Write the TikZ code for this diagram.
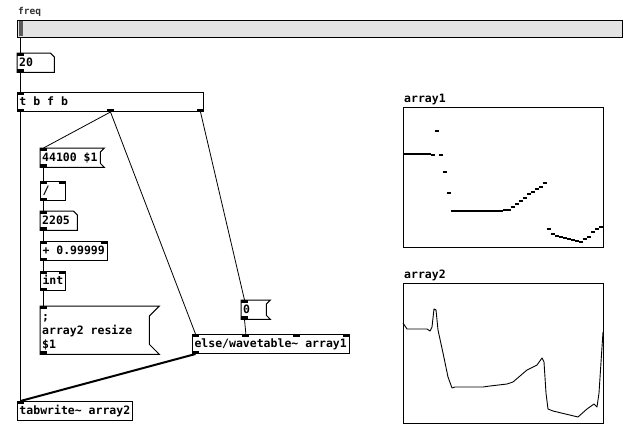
\documentclass[tikz,border=0pt]{standalone}
\usepackage{fontspec}
\newfontfamily\pdmono{DejaVu Sans Mono}
\newcommand\pdtext{\pdmono\bfseries\fontsize{11.5}{14}\selectfont}
\newcommand\pdsmall{\pdmono\bfseries\fontsize{9.5}{11}\selectfont}
\newcommand\pdsp{\hspace*{0.602em}}
\usetikzlibrary{calc}
\definecolor{sliderbg}{HTML}{E3E3E3}
\definecolor{thumb}{HTML}{5A5A5A}
\begin{document}
\begin{tikzpicture}[x=1pt,y=-1pt,
  pd/.style={font=\pdtext, anchor=north west, inner xsep=2pt, inner ysep=0pt,
    text height=13pt, text depth=6pt, align=left},
  obj/.style={pd, draw, line width=1pt},
  outline/.style={draw, line width=1pt},
  conn/.style={line width=0.8pt},
  sig/.style={line width=2pt},
  io/.style={fill=black},
  graphbox/.style={draw, line width=1pt, anchor=north west, inner sep=0pt},
  apt/.style={line width=2pt},
  lbl/.style={font=\pdtext, anchor=base west, inner sep=0pt}
]
\useasboundingbox[fill=white] (0,0) rectangle (643,447);

% slider
\node[lbl, font=\pdsmall, text=black!80] (freqlbl) at (18,15) {freq};
\node[draw, line width=1pt, fill=sliderbg, anchor=north west, inner sep=0pt,
  minimum width=605pt, minimum height=17pt] (sl) at (17,20) {};
\fill[thumb] (19,21) rectangle (22.5,36);

% number box 20
\node[pd, text width=33pt] (n20) at (17,53) {20};
\draw[outline] (n20.north west) -- ([xshift=-4pt]n20.north east) -- ([yshift=-4pt]n20.north east) -- (n20.south east) -- (n20.south west) -- cycle;

% t b f b
\node[obj, text width=182pt] (tb) at (17,92) {t\pdsp b\pdsp f\pdsp b};

% 44100 $1
\node[pd, text width=56pt] (m44) at (40,148) {44100\pdsp\$1};
\draw[outline] (m44.north west) -- ([xshift=4pt]m44.north east) -- ([yshift=-4pt]m44.north east) -- ([yshift=4pt]m44.south east) -- ([xshift=4pt]m44.south east) -- (m44.south west) -- cycle;

% /
\node[obj, text width=21pt] (dv) at (40,181) {/};

% 2205
\node[pd, text width=33pt] (n22) at (40,211) {2205};
\draw[outline] (n22.north west) -- ([xshift=-4pt]n22.north east) -- ([yshift=-4pt]n22.north east) -- (n22.south east) -- (n22.south west) -- cycle;

% + 0.99999
\node[obj, text width=63pt] (pl) at (40,241) {+\pdsp 0.99999};

% int
\node[obj, text width=21pt] (in) at (40,271) {int};

% resize message
\node[pd, text width=105pt, text height=14pt, text depth=34pt] (mr) at (40,306) {;\\array2\pdsp resize\\\$1};
\draw[outline] (mr.north west) -- ([xshift=10pt]mr.north east) -- ([yshift=-10pt]mr.north east) -- ([yshift=10pt]mr.south east) -- ([xshift=10pt]mr.south east) -- (mr.south west) -- cycle;

% 0 message
\node[pd, text width=21pt] (m0) at (241,300) {0};
\draw[outline] (m0.north west) -- ([xshift=4pt]m0.north east) -- ([yshift=-4pt]m0.north east) -- ([yshift=4pt]m0.south east) -- ([xshift=4pt]m0.south east) -- (m0.south west) -- cycle;

% wavetable
\node[obj, text width=153pt] (wt) at (192,334) {else/wavetable\string~\pdsp array1};

% tabwrite
\node[obj, text width=111pt] (tw) at (17,401) {tabwrite\string~\pdsp array2};

% iolets
\fill[io] (n20.north west) rectangle ++(7,3);
\fill[io] (n20.south west) rectangle ++(7,-3);
\fill[io] (tb.north west) rectangle ++(7,3);
\fill[io] (tb.south west) rectangle ++(7,-3);
\fill[io] ([xshift=-3.5pt]tb.south) rectangle ++(7,-3);
\fill[io] (tb.south east) rectangle ++(-7,-3);
\fill[io] (m44.north west) rectangle ++(7,3);
\fill[io] (m44.south west) rectangle ++(7,-3);
\fill[io] (dv.north west) rectangle ++(7,3);
\fill[io] (dv.north east) rectangle ++(-7,3);
\fill[io] (dv.south west) rectangle ++(7,-3);
\fill[io] (n22.north west) rectangle ++(7,3);
\fill[io] (n22.south west) rectangle ++(7,-3);
\fill[io] (pl.north west) rectangle ++(7,3);
\fill[io] (pl.north east) rectangle ++(-7,3);
\fill[io] (pl.south west) rectangle ++(7,-3);
\fill[io] (in.north west) rectangle ++(7,3);
\fill[io] (in.north east) rectangle ++(-7,3);
\fill[io] (in.south west) rectangle ++(7,-3);
\fill[io] (mr.north west) rectangle ++(7,3);
\fill[io] (mr.south west) rectangle ++(7,-3);
\fill[io] (m0.north west) rectangle ++(7,3);
\fill[io] (m0.south west) rectangle ++(7,-3);
\fill[io] (wt.north west) rectangle ++(7,3);
\fill[io] ($(wt.north west)!0.3333!(wt.north east)+(-2.3,0)$) rectangle ++(7,3);
\fill[io] ($(wt.north west)!0.6667!(wt.north east)+(-4.7,0)$) rectangle ++(7,3);
\fill[io] (wt.north east) rectangle ++(-7,3);
\fill[io] (wt.south west) rectangle ++(7,-3);
\fill[io] (tw.north west) rectangle ++(7,3);

% connections
\draw[conn] ([xshift=3.5pt]sl.south west) -- ([xshift=3.5pt]n20.north west);
\draw[conn] ([xshift=3.5pt]n20.south west) -- ([xshift=3.5pt]tb.north west);
\draw[conn] ([xshift=3.5pt]tb.south west) -- ([xshift=3.5pt]tw.north west);
\draw[conn] (tb.south) -- ([xshift=3.5pt]m44.north west);
\draw[conn] (tb.south) -- ([xshift=3.5pt]wt.north west);
\draw[conn] ([xshift=-3.5pt]tb.south east) -- ([xshift=3.5pt]m0.north west);
\draw[conn] ([xshift=3.5pt]m44.south west) -- ([xshift=3.5pt]dv.north west);
\draw[conn] ([xshift=3.5pt]dv.south west) -- ([xshift=3.5pt]n22.north west);
\draw[conn] ([xshift=3.5pt]n22.south west) -- ([xshift=3.5pt]pl.north west);
\draw[conn] ([xshift=3.5pt]pl.south west) -- ([xshift=3.5pt]in.north west);
\draw[conn] ([xshift=3.5pt]in.south west) -- ([xshift=3.5pt]mr.north west);
\draw[conn] ([xshift=3.5pt]m0.south west) -- ($(wt.north west)!0.3333!(wt.north east)+(1.2,0)$);
\draw[sig] ([xshift=3.5pt]wt.south west) -- ([xshift=3.5pt]tw.north west);

% array1
\node[lbl] (a1l) at (404,102) {array1};
\node[graphbox, minimum width=200pt, minimum height=140pt] (g1) at (403,107) {};
\foreach \yv [count=\i from 0] in {154,154,154,154,154,154,154,155,131,155,172,193,
  211,211,211,211,211,211,211,211,211,211,211,211,211,
  210,210,207,204,201,198,194,192,189,187,183,
  229,234,236,237,238,239,240,241,242,239,237,232,229,227}
  \draw[apt] (403+4*\i,\yv) -- ++(4,0);

% array2
\node[lbl] (a2l) at (404,278) {array2};
\node[graphbox, minimum width=200pt, minimum height=140pt] (g2) at (403,283) {};
\draw[line width=0.9pt, line join=round] (403,323) -- (407,329) -- (427,329) -- (430,331) -- (432,327) -- (434,309) -- (436,310) -- (438,330) -- (443,353) -- (448,377) -- (452,388) -- (455,387) -- (483,387) -- (490,386) -- (507,384) -- (513,382) -- (527,370) -- (537,365) -- (542,358) -- (544,362) -- (546,393) -- (548,409) -- (553,411) -- (578,417) -- (587,409) -- (594,404) -- (597,407) -- (599,393) -- (602,347) -- (603,332);
\end{tikzpicture}
\end{document}
